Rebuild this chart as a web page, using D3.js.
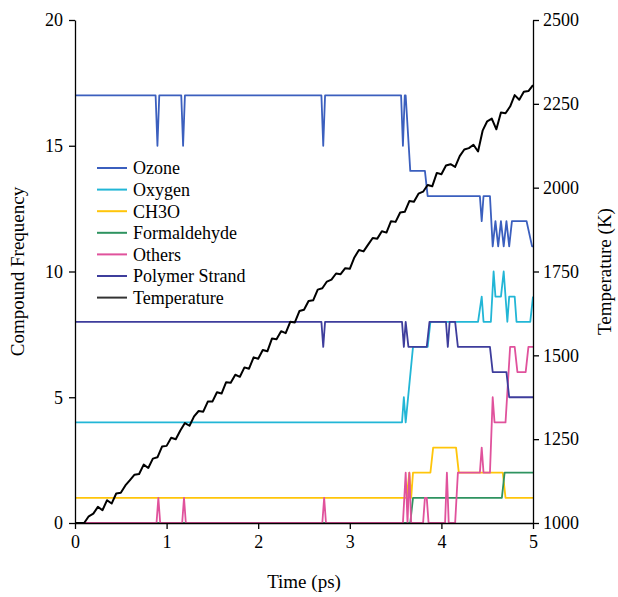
<!DOCTYPE html>
<html>
<head>
<meta charset="utf-8">
<script src="https://cdn.jsdelivr.net/npm/d3@7"></script>
<style>
  body { margin: 0; background: #fff; }
  svg { display: block; font-family: "Liberation Serif", "Times New Roman", serif; }
</style>
</head>
<body>
<div id="chart"></div>
<script>
// vertices [time (ps), count]
const ozone = [[0,17],[0.88,17],[0.90,15],[0.92,17],[1.16,17],[1.18,15],[1.20,17],[2.69,17],[2.71,15],[2.73,17],
  [3.56,17],[3.58,15],[3.60,17],[3.61,17],[3.66,14],[3.82,14],[3.85,13],[4.42,13],[4.44,12],[4.46,13],[4.53,13],
  [4.56,11],[4.59,12],[4.62,11],[4.65,12],[4.68,11],[4.71,12],[4.74,11],[4.77,12],[4.93,12],[4.99,11],[5,11]]
const oxygen = [[0,4],[3.57,4],[3.59,5],[3.61,4],[3.69,7],[3.85,7],[3.88,8],[4.40,8],[4.44,9],[4.46,8],[4.54,8],
  [4.57,10],[4.59,9],[4.65,9],[4.68,10],[4.72,8],[4.74,9],[4.80,9],[4.82,8],[4.97,8],[5,9]]
const ch3o = [[0,1],[3.62,1],[3.65,2],[3.67,1],[3.69,2],[3.88,2],[3.91,3],[4.16,3],[4.19,2],[4.67,2],[4.70,1],[5,1]]
const formaldehyde = [[0,0],[3.66,0],[3.69,1],[4.66,1],[4.69,2],[5,2]]
const others = [[0,0],[0.89,0],[0.91,1],[0.93,0],[1.17,0],[1.19,1],[1.21,0],[2.70,0],[2.72,1],[2.74,0],
  [3.58,0],[3.61,2],[3.63,0],[3.65,2],[3.67,0],[3.80,0],[3.82,1],[3.84,1],[3.86,0],[4.04,0],[4.06,2],[4.08,0],
  [4.15,0],[4.18,2],[4.42,2],[4.44,3],[4.46,2],[4.53,2],[4.56,5],[4.58,4],[4.70,4],[4.75,7],[4.80,7],[4.83,6],
  [4.92,6],[4.95,7],[5,7]]
const polymer = [[0,8],[2.69,8],[2.71,7],[2.73,8],[3.57,8],[3.59,7],[3.61,8],[3.64,7],[3.84,7],[3.87,8],[4.05,8],
  [4.07,7],[4.09,8],[4.15,8],[4.18,7],[4.53,7],[4.56,6],[4.71,6],[4.74,5],[5,5]]

// temperature (K), one value every 0.05 ps from 0 to 5
const tempStep = 0.05
const tempK = [1000,1000,1000,1020,1028,1048,1038,1068,1058,1088,1090,1112,1128,1144,1146,1174,1164,1192,1196,1228,
  1230,1254,1250,1276,1298,1290,1318,1334,1332,1362,1362,1390,1386,1420,1418,1442,1436,1464,1460,1494,
  1490,1516,1512,1550,1548,1572,1566,1600,1598,1632,1636,1662,1664,1696,1700,1720,1726,1744,1742,1760,
  1758,1792,1814,1810,1830,1850,1848,1870,1866,1900,1898,1926,1928,1960,1958,1982,1988,2008,2004,2044,
  2040,2066,2070,2062,2094,2114,2118,2128,2108,2170,2198,2206,2174,2224,2222,2242,2276,2262,2286,2288,2306]

const countTicks = [0, 5, 10, 15, 20]
const tempTicks = [1000, 1250, 1500, 1750, 2000, 2250, 2500]
const timeTicks = [0, 1, 2, 3, 4, 5]

const series = [
  {name: "Ozone", data: ozone, color: "#3b5fbe"},
  {name: "Oxygen", data: oxygen, color: "#22b6d6"},
  {name: "CH3O", data: ch3o, color: "#ffc50a"},
  {name: "Formaldehyde", data: formaldehyde, color: "#2e9360"},
  {name: "Others", data: others, color: "#e0529c"},
  {name: "Polymer Strand", data: polymer, color: "#3e3d9c"},
]

const width = 618, height = 597
const marginLeft = 75, marginRight = 85, marginTop = 20, marginBottom = 74

const x = d3.scaleLinear([0, 5], [marginLeft, width - marginRight])
const y = d3.scaleLinear([0, 20], [height - marginBottom, marginTop])
const yT = d3.scaleLinear([1000, 2500], [height - marginBottom, marginTop])

const svg = d3.select("#chart").append("svg")
    .attr("width", width)
    .attr("height", height)
    .attr("viewBox", [0, 0, width, height])

const line = d3.line()
    .x(d => x(d[0]))
    .y(d => y(d[1]))

svg.append("g")
    .attr("fill", "none")
    .attr("stroke-width", 1.8)
    .attr("stroke-linejoin", "round")
    .selectAll("path")
    .data(series)
    .join("path")
    .attr("stroke", d => d.color)
    .attr("d", d => line(d.data))

const tempLine = d3.line()
    .x((d, i) => x(i * tempStep))
    .y(d => yT(d))

svg.append("path")
    .attr("fill", "none")
    .attr("stroke", "#000")
    .attr("stroke-width", 2)
    .attr("stroke-linejoin", "round")
    .attr("d", tempLine(tempK))

// axes
const styleAxis = g => {
  g.select(".domain").attr("stroke", "#000").attr("stroke-width", 1.3)
  g.selectAll(".tick line").attr("stroke", "#000").attr("stroke-width", 1.3)
  g.selectAll(".tick text").attr("font-size", 18).attr("fill", "#000")
      .attr("font-family", "Liberation Serif, serif")
}

svg.append("g")
    .attr("transform", `translate(${marginLeft},0)`)
    .call(d3.axisLeft(y).tickValues(countTicks).tickSize(6).tickSizeOuter(0).tickPadding(6))
    .call(styleAxis)

svg.append("g")
    .attr("transform", `translate(${width - marginRight},0)`)
    .call(d3.axisRight(yT).tickValues(tempTicks).tickFormat(d3.format("d")).tickSize(6).tickSizeOuter(0).tickPadding(4))
    .call(styleAxis)

svg.append("g")
    .attr("transform", `translate(0,${height - marginBottom})`)
    .call(d3.axisBottom(x).tickValues(timeTicks).tickFormat(d3.format("d")).tickSize(6).tickSizeOuter(0).tickPadding(6))
    .call(styleAxis)

svg.append("text")
    .attr("transform", `translate(24,${(marginTop + height - marginBottom) / 2}) rotate(-90)`)
    .attr("text-anchor", "middle")
    .attr("font-size", 19)
    .text("Compound Frequency")

svg.append("text")
    .attr("transform", `translate(611,${(marginTop + height - marginBottom) / 2}) rotate(-90)`)
    .attr("text-anchor", "middle")
    .attr("font-size", 19)
    .text("Temperature (K)")

svg.append("text")
    .attr("x", (marginLeft + width - marginRight) / 2)
    .attr("y", 588)
    .attr("text-anchor", "middle")
    .attr("font-size", 19)
    .text("Time (ps)")

// legend
const legendItems = series.map(s => ({name: s.name, color: s.color}))
    .concat([{name: "Temperature", color: "#333"}])

const legend = svg.append("g")
    .attr("transform", "translate(97,168)")
    .selectAll("g")
    .data(legendItems)
    .join("g")
    .attr("transform", (d, i) => `translate(0,${i * 21.6})`)

legend.append("line")
    .attr("x1", 0).attr("x2", 30)
    .attr("stroke", d => d.color)
    .attr("stroke-width", 2)

legend.append("text")
    .attr("x", 36)
    .attr("dy", "0.35em")
    .attr("font-size", 18)
    .text(d => d.name)
</script>
</body>
</html>
